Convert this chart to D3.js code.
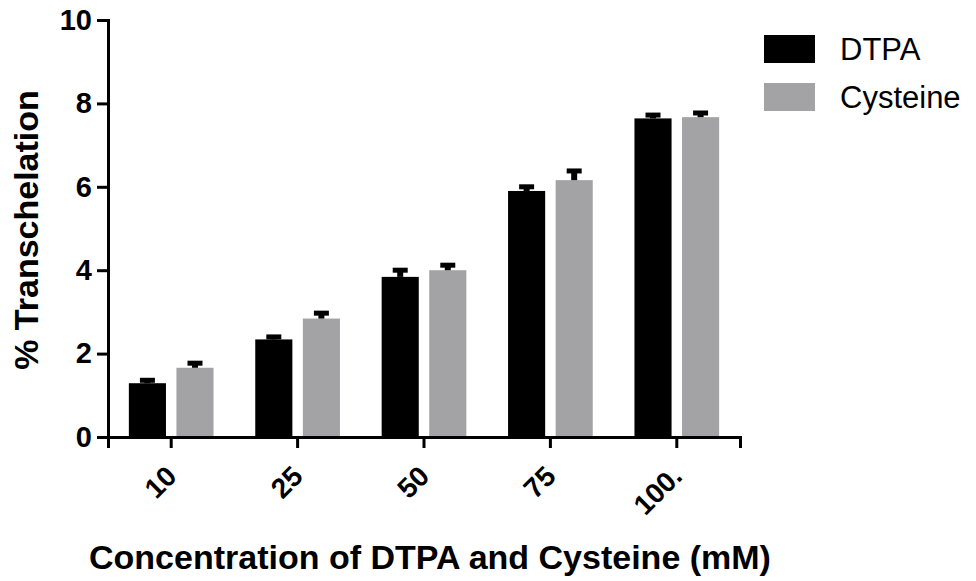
<!DOCTYPE html>
<html>
<head>
<meta charset="utf-8">
<script src="https://cdn.jsdelivr.net/npm/d3@7"></script>
<style>
  body { margin: 0; background: #fff; }
  text { font-family: "Liberation Sans", Arial, sans-serif; }
</style>
</head>
<body>
<script>
const concentrations = ['10', '25', '50', '75', '100.'];
const seriesNames = ['DTPA', 'Cysteine'];
const dtpaMeans = [1.29, 2.34, 3.84, 5.90, 7.64];
const dtpaErrors = [0.07, 0.06, 0.16, 0.10, 0.08];
const cysteineMeans = [1.66, 2.84, 4.00, 6.16, 7.67];
const cysteineErrors = [0.11, 0.13, 0.12, 0.22, 0.10];
const yTicks = [0, 2, 4, 6, 8, 10];

const colors = { DTPA: '#000000', Cysteine: '#a3a3a6' };

const rows = concentrations.map((c, i) => ({
  conc: c,
  values: [
    { name: 'DTPA', mean: dtpaMeans[i], err: dtpaErrors[i] },
    { name: 'Cysteine', mean: cysteineMeans[i], err: cysteineErrors[i] }
  ]
}));

const width = 976;
const height = 581;
const plot = { left: 108, right: 740, top: 20, bottom: 437 };

const svg = d3.select('body')
  .append('svg')
  .attr('width', width)
  .attr('height', height);

const x0 = d3.scaleBand()
  .domain(concentrations)
  .range([plot.left, plot.right])
  .paddingInner(0.33)
  .paddingOuter(0.165);

const x1 = d3.scaleBand()
  .domain(seriesNames)
  .range([0, x0.bandwidth()])
  .paddingInner(0.22);

const y = d3.scaleLinear()
  .domain([0, 10])
  .range([plot.bottom, plot.top]);

// bars
const groups = svg.selectAll('.group').data(rows)
  .enter()
  .append('g')
  .attr('class', 'group')
  .attr('transform', d => `translate(${x0(d.conc)},0)`);

groups.selectAll('rect').data(d => d.values)
  .enter()
  .append('rect')
  .attr('x', d => x1(d.name))
  .attr('width', x1.bandwidth())
  .attr('y', d => y(d.mean))
  .attr('height', d => plot.bottom - y(d.mean))
  .attr('fill', d => colors[d.name]);

// error bars (upper only)
groups.selectAll('.stem').data(d => d.values)
  .enter()
  .append('line')
  .attr('class', 'stem')
  .attr('x1', d => x1(d.name) + x1.bandwidth() / 2)
  .attr('x2', d => x1(d.name) + x1.bandwidth() / 2)
  .attr('y1', d => y(d.mean))
  .attr('y2', d => y(d.mean + d.err))
  .attr('stroke', '#000')
  .attr('stroke-width', 6);

groups.selectAll('.cap').data(d => d.values)
  .enter()
  .append('line')
  .attr('class', 'cap')
  .attr('x1', d => x1(d.name) + x1.bandwidth() / 2 - 7.5)
  .attr('x2', d => x1(d.name) + x1.bandwidth() / 2 + 7.5)
  .attr('y1', d => y(d.mean + d.err))
  .attr('y2', d => y(d.mean + d.err))
  .attr('stroke', '#000')
  .attr('stroke-width', 5);

// y axis
const yAxis = svg.append('g')
  .attr('transform', `translate(${plot.left},0)`)
  .call(d3.axisLeft(y).tickValues(yTicks).tickSizeOuter(0).tickSize(11).tickPadding(5));

yAxis.select('.domain').attr('stroke-width', 3);
yAxis.selectAll('.tick line').attr('stroke-width', 3);
yAxis.selectAll('.tick text')
  .style('font-size', '29px')
  .style('font-weight', 'bold')
  .attr('fill', '#000');

// x axis
const xAxis = svg.append('g')
  .attr('transform', `translate(0,${plot.bottom})`)
  .call(d3.axisBottom(x0).tickSizeOuter(0).tickSize(11));

xAxis.select('.domain').attr('stroke-width', 3);
xAxis.selectAll('.tick line').attr('stroke-width', 3);
xAxis.selectAll('.tick text')
  .attr('x', 7)
  .attr('y', 41)
  .attr('dy', 0)
  .attr('transform', 'rotate(-45, 7, 41)')
  .style('text-anchor', 'end')
  .style('font-size', '28px')
  .style('font-weight', 'bold')
  .attr('fill', '#000');

// axis titles
svg.append('text')
  .attr('transform', 'rotate(-90)')
  .attr('x', -230)
  .attr('y', 38)
  .style('text-anchor', 'middle')
  .style('font-size', '34px')
  .style('font-weight', 'bold')
  .text('% Transchelation');

svg.append('text')
  .attr('x', 430)
  .attr('y', 569)
  .style('text-anchor', 'middle')
  .style('font-size', '34px')
  .style('font-weight', 'bold')
  .text('Concentration of DTPA and Cysteine (mM)');

// legend
const legend = svg.selectAll('.legend').data(seriesNames)
  .enter()
  .append('g')
  .attr('class', 'legend')
  .attr('transform', (d, i) => `translate(764,${35 + i * 48})`);

legend.append('rect')
  .attr('width', 51)
  .attr('height', 28)
  .attr('fill', d => colors[d]);

legend.append('text')
  .attr('x', 76)
  .attr('y', 25)
  .style('font-size', '31px')
  .text(d => d);
</script>
</body>
</html>
